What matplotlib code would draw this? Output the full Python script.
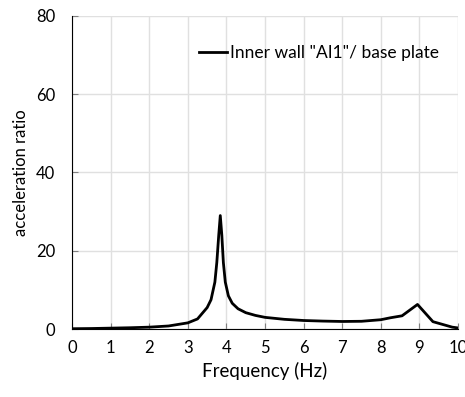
import matplotlib
matplotlib.use("Agg")
import matplotlib.pyplot as plt

plt.rcParams['font.family'] = ['Lato', 'DejaVu Sans']

# frequency (Hz) and acceleration ratio
freq = [0, 0.5, 1, 1.5, 2, 2.5, 3, 3.25, 3.5, 3.6, 3.7, 3.75, 3.8, 3.84,
        3.88, 3.92, 3.97, 4.05, 4.15, 4.3, 4.5, 4.75, 5, 5.5, 6, 6.5, 7,
        7.5, 8, 8.25, 8.55, 8.95, 9.35, 9.85, 10]
ratio = [0.1, 0.15, 0.25, 0.35, 0.5, 0.8, 1.6, 2.6, 5.5, 7.5, 12, 17, 24, 29,
         24, 17, 12, 8.5, 6.6, 5.2, 4.2, 3.5, 3.0, 2.5, 2.2, 2.05, 1.95,
         2.0, 2.4, 2.9, 3.4, 6.3, 1.9, 0.5, 0.3]
label = 'Inner wall "AI1"/ base plate'

fig = plt.figure(figsize=(4.65, 3.97), dpi=100)
ax = fig.add_axes([0.155, 0.171, 0.83, 0.789])

ax.plot(freq, ratio, color='black', lw=2, label=label)

ax.set_xlim(0, 10)
ax.set_ylim(0, 80)
ax.set_xticks(range(0, 11))
ax.set_yticks(range(0, 81, 20))
ax.grid(True, color='#e0e0e0', lw=1)
ax.set_axisbelow(True)
for s in ['top', 'right']:
    ax.spines[s].set_visible(False)
ax.tick_params(direction='in', length=4, color='#808080', labelsize=12)
ax.tick_params(axis='y', pad=12)
ax.tick_params(axis='x', pad=8)
ax.set_xlabel("Frequency (Hz)", fontsize=13.5, labelpad=4)
ax.set_ylabel("acceleration ratio", fontsize=12, labelpad=5)

ax.legend(loc='center right', bbox_to_anchor=(0.99, 0.88), frameon=False,
          fontsize=12.5, handlelength=1.6, handletextpad=0.15)

fig.savefig("out.png", dpi=100)
